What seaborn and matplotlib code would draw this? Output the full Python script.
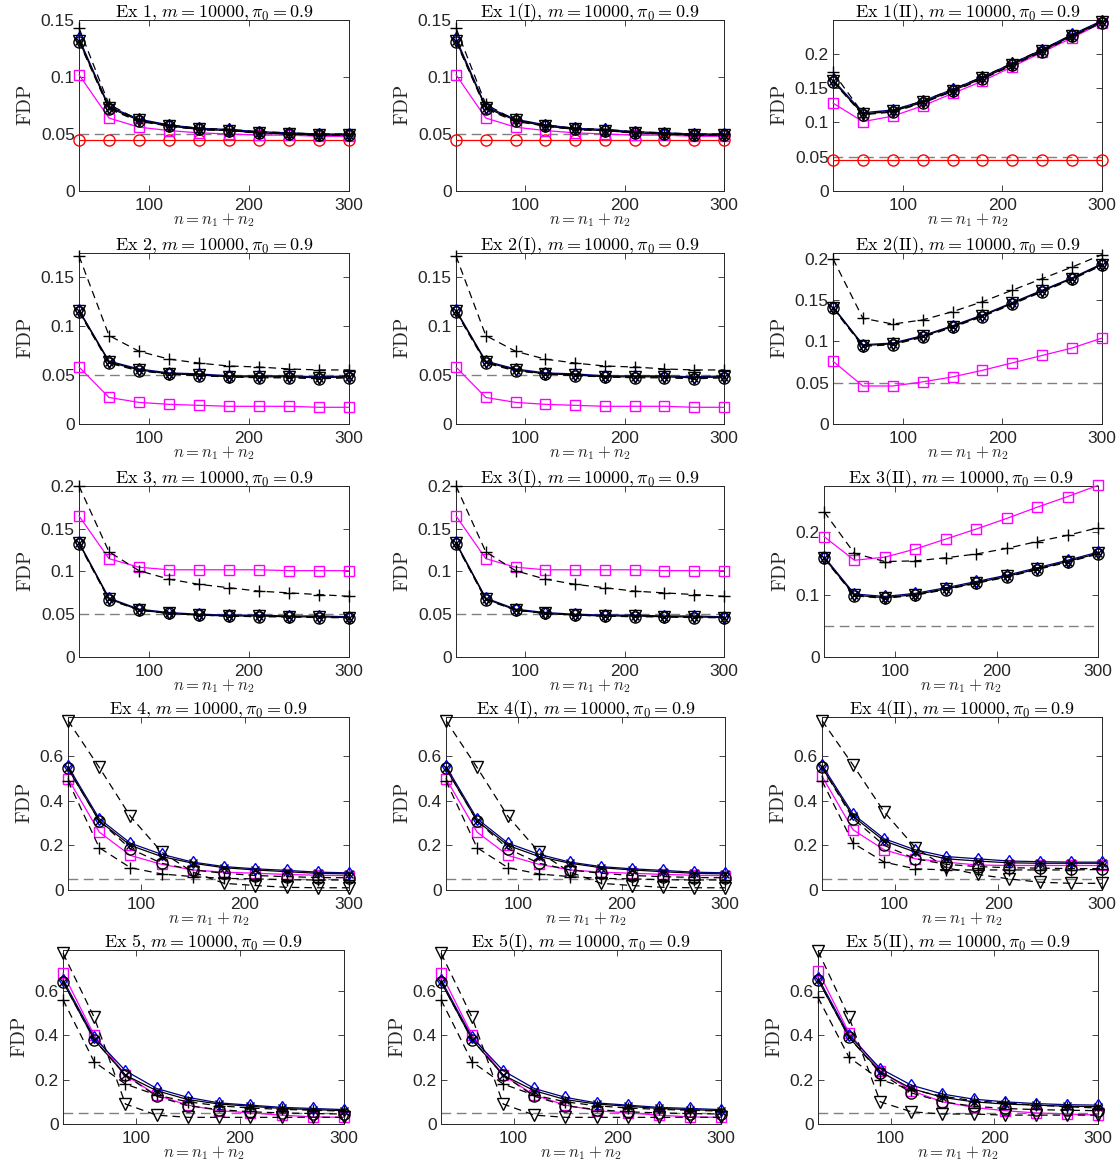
import numpy as np
import pandas as pd
import seaborn as sns
import matplotlib.pyplot as plt
import matplotlib.ticker as ticker

# sample sizes n = n1 + n2
n = [30, 60, 90, 120, 150, 180, 210, 240, 270, 300]

# Ex 1 (Ex 1(I) looks the same)
ex1 = dict(
    red=[0.045, 0.045, 0.045, 0.045, 0.045, 0.045, 0.045, 0.045, 0.045, 0.045],
    mag=[0.102, 0.064, 0.056, 0.053, 0.051, 0.050, 0.049, 0.049, 0.048, 0.048],
    plus=[0.143, 0.076, 0.062, 0.058, 0.055, 0.054, 0.052, 0.051, 0.050, 0.050],
    tri=[0.132, 0.073, 0.062, 0.057, 0.054, 0.053, 0.051, 0.050, 0.049, 0.049],
    dia=[0.134, 0.074, 0.063, 0.058, 0.055, 0.054, 0.052, 0.051, 0.050, 0.050],
    circ=[0.131, 0.072, 0.061, 0.057, 0.054, 0.053, 0.051, 0.050, 0.049, 0.049],
    xm=[0.132, 0.073, 0.062, 0.057, 0.054, 0.053, 0.051, 0.050, 0.049, 0.049],
)
# Ex 1(II)
ex1_2 = dict(
    red=[0.045, 0.045, 0.045, 0.045, 0.045, 0.045, 0.045, 0.045, 0.045, 0.045],
    mag=[0.128, 0.101, 0.109, 0.124, 0.142, 0.160, 0.181, 0.202, 0.223, 0.245],
    plus=[0.173, 0.113, 0.117, 0.131, 0.148, 0.166, 0.186, 0.206, 0.227, 0.247],
    tri=[0.160, 0.112, 0.116, 0.129, 0.146, 0.164, 0.184, 0.204, 0.226, 0.246],
    dia=[0.162, 0.114, 0.118, 0.131, 0.148, 0.166, 0.186, 0.206, 0.228, 0.248],
    circ=[0.159, 0.111, 0.115, 0.128, 0.145, 0.163, 0.183, 0.203, 0.225, 0.245],
    xm=[0.160, 0.112, 0.116, 0.129, 0.146, 0.164, 0.184, 0.204, 0.226, 0.246],
)
# Ex 2 (and 2(I))
ex2 = dict(
    mag=[0.058, 0.027, 0.022, 0.020, 0.019, 0.018, 0.018, 0.018, 0.017, 0.017],
    plus=[0.171, 0.090, 0.074, 0.066, 0.062, 0.059, 0.058, 0.056, 0.055, 0.055],
    tri=[0.115, 0.063, 0.055, 0.051, 0.050, 0.048, 0.048, 0.048, 0.047, 0.048],
    dia=[0.116, 0.064, 0.056, 0.052, 0.051, 0.049, 0.049, 0.049, 0.048, 0.049],
    circ=[0.114, 0.062, 0.054, 0.051, 0.049, 0.048, 0.047, 0.047, 0.046, 0.047],
    xm=[0.115, 0.063, 0.055, 0.051, 0.050, 0.048, 0.048, 0.048, 0.047, 0.048],
)
# Ex 2(II)
ex2_2 = dict(
    mag=[0.076, 0.046, 0.046, 0.051, 0.057, 0.065, 0.074, 0.083, 0.092, 0.104],
    plus=[0.200, 0.128, 0.121, 0.126, 0.136, 0.148, 0.162, 0.176, 0.190, 0.205],
    tri=[0.141, 0.095, 0.097, 0.106, 0.118, 0.131, 0.146, 0.161, 0.176, 0.193],
    dia=[0.142, 0.096, 0.098, 0.107, 0.119, 0.132, 0.147, 0.162, 0.177, 0.194],
    circ=[0.140, 0.094, 0.096, 0.105, 0.117, 0.130, 0.145, 0.160, 0.175, 0.192],
    xm=[0.141, 0.095, 0.097, 0.106, 0.118, 0.131, 0.146, 0.161, 0.176, 0.193],
)
# Ex 3 (and 3(I))
ex3 = dict(
    mag=[0.165, 0.115, 0.105, 0.102, 0.102, 0.102, 0.102, 0.101, 0.101, 0.101],
    plus=[0.200, 0.123, 0.101, 0.091, 0.085, 0.081, 0.077, 0.075, 0.073, 0.071],
    tri=[0.133, 0.068, 0.055, 0.051, 0.049, 0.048, 0.048, 0.047, 0.047, 0.046],
    dia=[0.134, 0.069, 0.056, 0.052, 0.050, 0.049, 0.049, 0.048, 0.048, 0.047],
    circ=[0.132, 0.067, 0.055, 0.051, 0.049, 0.048, 0.047, 0.047, 0.046, 0.046],
    xm=[0.133, 0.068, 0.055, 0.051, 0.049, 0.048, 0.048, 0.047, 0.047, 0.046],
)
# Ex 3(II)
ex3_2 = dict(
    mag=[0.193, 0.155, 0.160, 0.173, 0.189, 0.205, 0.222, 0.240, 0.257, 0.275],
    plus=[0.233, 0.166, 0.153, 0.154, 0.159, 0.165, 0.174, 0.185, 0.195, 0.207],
    tri=[0.159, 0.099, 0.095, 0.100, 0.109, 0.119, 0.129, 0.141, 0.153, 0.166],
    dia=[0.161, 0.101, 0.097, 0.102, 0.111, 0.121, 0.131, 0.143, 0.155, 0.168],
    circ=[0.158, 0.098, 0.094, 0.099, 0.108, 0.118, 0.128, 0.140, 0.152, 0.165],
    xm=[0.159, 0.099, 0.095, 0.100, 0.109, 0.119, 0.129, 0.141, 0.153, 0.166],
)
# Ex 4 (and 4(I))
ex4 = dict(
    mag=[0.50, 0.26, 0.155, 0.115, 0.090, 0.080, 0.075, 0.070, 0.066, 0.064],
    plus=[0.49, 0.19, 0.100, 0.072, 0.060, 0.052, 0.050, 0.046, 0.045, 0.045],
    tri=[0.76, 0.55, 0.330, 0.170, 0.080, 0.030, 0.020, 0.012, 0.010, 0.010],
    dia=[0.555, 0.32, 0.210, 0.160, 0.125, 0.105, 0.095, 0.088, 0.080, 0.077],
    circ=[0.545, 0.31, 0.185, 0.120, 0.090, 0.075, 0.065, 0.060, 0.056, 0.055],
    xm=[0.545, 0.31, 0.200, 0.150, 0.120, 0.100, 0.090, 0.082, 0.075, 0.072],
)
# Ex 4(II)
ex4_2 = dict(
    mag=[0.51, 0.27, 0.180, 0.140, 0.125, 0.112, 0.110, 0.110, 0.110, 0.110],
    plus=[0.49, 0.21, 0.125, 0.095, 0.090, 0.090, 0.090, 0.090, 0.090, 0.092],
    tri=[0.76, 0.56, 0.350, 0.190, 0.100, 0.070, 0.050, 0.035, 0.030, 0.030],
    dia=[0.56, 0.34, 0.230, 0.180, 0.150, 0.140, 0.130, 0.127, 0.125, 0.125],
    circ=[0.55, 0.32, 0.200, 0.140, 0.115, 0.105, 0.100, 0.098, 0.096, 0.096],
    xm=[0.55, 0.33, 0.220, 0.170, 0.140, 0.130, 0.122, 0.120, 0.120, 0.120],
)
# Ex 5 (and 5(I))
ex5 = dict(
    mag=[0.68, 0.40, 0.22, 0.130, 0.085, 0.060, 0.050, 0.040, 0.032, 0.030],
    plus=[0.56, 0.28, 0.18, 0.130, 0.100, 0.082, 0.072, 0.066, 0.062, 0.058],
    tri=[0.77, 0.48, 0.09, 0.040, 0.030, 0.030, 0.030, 0.030, 0.030, 0.030],
    dia=[0.65, 0.39, 0.24, 0.160, 0.120, 0.095, 0.085, 0.075, 0.070, 0.065],
    circ=[0.64, 0.38, 0.22, 0.125, 0.082, 0.065, 0.055, 0.050, 0.047, 0.045],
    xm=[0.64, 0.38, 0.22, 0.150, 0.110, 0.090, 0.080, 0.070, 0.065, 0.060],
)
# Ex 5(II)
ex5_2 = dict(
    mag=[0.69, 0.41, 0.240, 0.150, 0.100, 0.075, 0.060, 0.050, 0.045, 0.040],
    plus=[0.57, 0.30, 0.200, 0.155, 0.125, 0.105, 0.095, 0.085, 0.078, 0.072],
    tri=[0.78, 0.48, 0.100, 0.055, 0.045, 0.045, 0.040, 0.040, 0.040, 0.040],
    dia=[0.66, 0.40, 0.250, 0.175, 0.135, 0.112, 0.100, 0.092, 0.087, 0.085],
    circ=[0.65, 0.39, 0.230, 0.140, 0.100, 0.080, 0.070, 0.065, 0.062, 0.060],
    xm=[0.65, 0.39, 0.235, 0.160, 0.120, 0.100, 0.090, 0.085, 0.080, 0.078],
)

titles = ["Ex 1", "Ex 1(I)", "Ex 1(II)",
          "Ex 2", "Ex 2(I)", "Ex 2(II)",
          "Ex 3", "Ex 3(I)", "Ex 3(II)",
          "Ex 4", "Ex 4(I)", "Ex 4(II)",
          "Ex 5", "Ex 5(I)", "Ex 5(II)"]
panel_data = [ex1, ex1, ex1_2, ex2, ex2, ex2_2, ex3, ex3, ex3_2,
              ex4, ex4, ex4_2, ex5, ex5, ex5_2]
ytops = [0.15, 0.15, 0.249, 0.174, 0.174, 0.207, 0.2, 0.2, 0.274,
         0.776, 0.776, 0.776, 0.784, 0.784, 0.784]
ysteps = [0.05, 0.05, 0.05, 0.05, 0.05, 0.05, 0.05, 0.05, 0.1,
          0.2, 0.2, 0.2, 0.2, 0.2, 0.2]
alpha_level = 0.05

# how each method is drawn (matlab look)
styles = {
    'red':  dict(color='red', marker='o', ls='-', mec='red', ms=8),
    'mag':  dict(color='magenta', marker='s', ls='-', mec='magenta', ms=7),
    'dia':  dict(color='navy', marker='d', ls='-', mec='blue', ms=6),
    'plus': dict(color='black', marker='+', ls='--', mec='black', ms=9),
    'tri':  dict(color='black', marker='v', ls='--', mec='black', ms=9),
    'circ': dict(color='black', marker='o', ls='--', mec='black', ms=8),
    'xm':   dict(color='black', marker='x', ls='-', mec='black', ms=6),
}
order = ['red', 'mag', 'dia', 'plus', 'tri', 'circ', 'xm']

sns.set_style("ticks")
plt.rcParams['font.family'] = ['Liberation Sans', 'DejaVu Sans']
plt.rcParams['mathtext.fontset'] = 'cm'
gray = '#262626'

W, H = 1120, 1171
fig = plt.figure(figsize=(W / 100, H / 100), dpi=100)

tops = [20, 253, 486, 717, 950]
bots = [191, 424, 657, 890, 1124]
lefts = [[79, 456, 833], [79, 456, 833], [79, 456, 824], [68, 446, 822], [63, 441, 818]]
rights = [[349, 724, 1102], [349, 724, 1102], [349, 724, 1098], [349, 725, 1102], [344, 721, 1098]]

for i in range(15):
    r, c = divmod(i, 3)
    l, rt = lefts[r][c], rights[r][c]
    ax = fig.add_axes([l / W, 1 - bots[r] / H, (rt - l) / W, (bots[r] - tops[r]) / H])
    d = panel_data[i]
    ax.axhline(alpha_level, color='#808080', ls=(0, (7, 4)), lw=1.0, zorder=1)
    for key in order:
        if key not in d:
            continue
        s = styles[key]
        sns.lineplot(x=n, y=d[key], ax=ax, color=s['color'], marker=s['marker'],
                     linestyle=s['ls'], markersize=s['ms'], markerfacecolor='none',
                     markeredgecolor=s['mec'], markeredgewidth=1.0, lw=0.9,
                     clip_on=False, zorder=3)
        if s['ls'] == '--':
            ax.lines[-1].set_linestyle((0, (6, 4)))
    ax.set_xlim(30, 300)
    ax.set_ylim(0, ytops[i])
    ax.set_xticks([100, 200, 300])
    ax.yaxis.set_major_locator(ticker.MultipleLocator(ysteps[i]))
    ax.yaxis.set_major_formatter(ticker.FuncFormatter(lambda v, p: '%g' % round(v, 3)))
    ax.tick_params(direction='in', top=True, right=True, length=4, width=0.6,
                   colors=gray, labelsize=12.5)
    ax.tick_params(axis='x', pad=5)
    ax.tick_params(axis='y', pad=3)
    for sp in ax.spines.values():
        sp.set_color(gray)
        sp.set_linewidth(0.7)
    ax.set_title(r"$\mathrm{" + titles[i].replace(" ", r"\ ") + r"},\, m = 10000, \pi_0 = 0.9$",
                 fontsize=13, pad=2, color='black')
    ax.set_xlabel(r"$n = n_1 + n_2$", fontsize=12, color=gray, labelpad=-1)
    ax.set_ylabel(r"$\mathrm{FDP}$", fontsize=14, color=gray, labelpad=4)

fig.savefig("out.png", dpi=100)
